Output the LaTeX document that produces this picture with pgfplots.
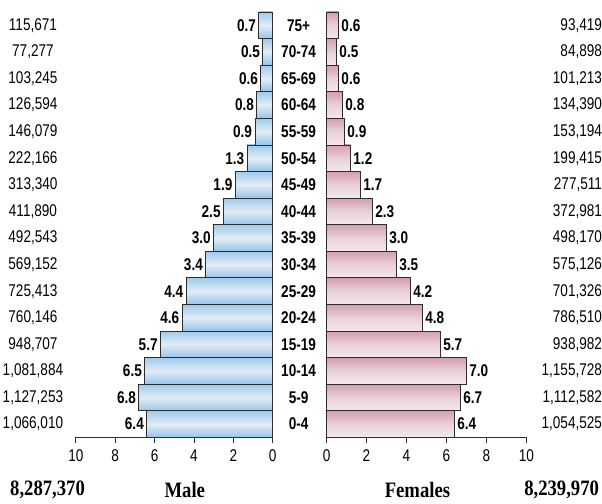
\documentclass[border=0pt]{standalone}
\usepackage{fontspec}
\setmainfont[FakeStretch=0.8]{Liberation Sans}
\newfontfamily\serifb[FakeStretch=0.85]{Liberation Serif}
\usepackage{pgfplots}
\pgfplotsset{compat=1.18}
\definecolor{mtop}{RGB}{160,202,236}
\definecolor{mmid}{RGB}{226,236,245}
\definecolor{mbot}{RGB}{150,196,234}
\definecolor{ftop}{RGB}{212,158,178}
\definecolor{fmid}{RGB}{234,208,218}
\definecolor{fbot}{RGB}{244,232,237}
\definecolor{edge}{RGB}{45,45,45}
\newcommand\fs{\fontsize{17}{20}\selectfont}
\pgfplotsset{
  /pgf/number format/assume math mode=true,
  pyr/.style={
    scale only axis, height=426pt,
    xmin=0, xmax=10, ymin=-0.5, ymax=15.5,
    axis x line*=bottom,
    y axis line style={draw=none},
    x axis line style={edge, line width=0.8pt},
    xtick={0,2,4,6,8,10},
    tick align=outside, major tick length=6pt,
    xtick style={edge, line width=0.8pt},
    ytick style={draw=none},
    xticklabel style={font=\fs, yshift=-3pt},
    ytick={0,...,15},
    clip=false,
  },
  bars/.style={
    xbar, bar width=1, draw=edge, line width=0.8pt,
    point meta=x,
    nodes near coords={\pgfmathprintnumber[fixed,fixed zerofill,precision=1]{\pgfplotspointmeta}},
  },
  mbars/.style={bars, top color=mtop, bottom color=mbot, middle color=mmid,
    nodes near coords style={font=\fs\bfseries, anchor=east, inner sep=2.5pt}},
  fbars/.style={bars, top color=ftop, bottom color=fbot, middle color=fmid,
    nodes near coords style={font=\fs\bfseries, anchor=west, inner sep=2.5pt}},
}
\begin{document}
\begin{tikzpicture}
\path (0,0) rectangle (602pt,-504pt);
% Male
\begin{axis}[pyr, width=197pt, at={(174.5pt,-438pt)}, anchor=south,
  x dir=reverse, axis y line*=left,
  yticklabels={{1,066,010},{1,127,253},{1,081,884},{948,707},{760,146},{725,413},{569,152},{492,543},{411,890},{313,340},{222,166},{146,079},{126,594},{103,245},{77,277},{115,671}},
  yticklabel style={font=\fs, anchor=center, inner sep=0pt, xshift=-37pt},
]
\addplot[mbars] coordinates {(6.4,0)};
\addplot[mbars] coordinates {(6.8,1)};
\addplot[mbars] coordinates {(6.5,2)};
\addplot[mbars] coordinates {(5.7,3)};
\addplot[mbars] coordinates {(4.6,4)};
\addplot[mbars] coordinates {(4.4,5)};
\addplot[mbars] coordinates {(3.4,6)};
\addplot[mbars] coordinates {(3.0,7)};
\addplot[mbars] coordinates {(2.5,8)};
\addplot[mbars] coordinates {(1.9,9)};
\addplot[mbars] coordinates {(1.3,10)};
\addplot[mbars] coordinates {(0.9,11)};
\addplot[mbars] coordinates {(0.8,12)};
\addplot[mbars] coordinates {(0.6,13)};
\addplot[mbars] coordinates {(0.5,14)};
\addplot[mbars] coordinates {(0.7,15)};
\end{axis}
% Female
\begin{axis}[pyr, width=200pt, at={(427pt,-438pt)}, anchor=south,
  axis y line*=right,
  yticklabels={{1,054,525},{1,112,582},{1,155,728},{938,982},{786,510},{701,326},{575,126},{498,170},{372,981},{277,511},{199,415},{153,194},{134,390},{101,213},{84,898},{93,419}},
  yticklabel style={font=\fs, anchor=east, inner sep=0pt, xshift=70pt},
]
\addplot[fbars] coordinates {(6.4,0)};
\addplot[fbars] coordinates {(6.7,1)};
\addplot[fbars] coordinates {(7.0,2)};
\addplot[fbars] coordinates {(5.7,3)};
\addplot[fbars] coordinates {(4.8,4)};
\addplot[fbars] coordinates {(4.2,5)};
\addplot[fbars] coordinates {(3.5,6)};
\addplot[fbars] coordinates {(3.0,7)};
\addplot[fbars] coordinates {(2.3,8)};
\addplot[fbars] coordinates {(1.7,9)};
\addplot[fbars] coordinates {(1.2,10)};
\addplot[fbars] coordinates {(0.9,11)};
\addplot[fbars] coordinates {(0.8,12)};
\addplot[fbars] coordinates {(0.6,13)};
\addplot[fbars] coordinates {(0.5,14)};
\addplot[fbars] coordinates {(0.6,15)};
\end{axis}
% Age labels
\begin{axis}[scale only axis, width=200pt, height=426pt, at={(427pt,-438pt)}, anchor=south,
  xmin=0, xmax=10, ymin=-0.5, ymax=15.5, hide x axis,
  axis y line*=left, y axis line style={draw=none}, ytick style={draw=none},
  ytick={0,...,15},
  yticklabels={0-4,5-9,10-14,15-19,20-24,25-29,30-34,35-39,40-44,45-49,50-54,55-59,60-64,65-69,70-74,75+},
  yticklabel style={font=\fs\bfseries, anchor=center, inner sep=0pt, xshift=-28pt},
]
\end{axis}
\node[font=\serifb\bfseries\fontsize{22}{26}\selectfont, anchor=west, inner sep=0pt] at (10pt,-491pt) {8,287,370};
\node[font=\serifb\bfseries\fontsize{22}{26}\selectfont, inner sep=0pt] at (185pt,-491pt) {Male};
\node[font=\serifb\bfseries\fontsize{22}{26}\selectfont, inner sep=0pt] at (418pt,-491pt) {Females};
\node[font=\serifb\bfseries\fontsize{22}{26}\selectfont, anchor=east, inner sep=0pt] at (600pt,-491pt) {8,239,970};
\end{tikzpicture}
\end{document}
